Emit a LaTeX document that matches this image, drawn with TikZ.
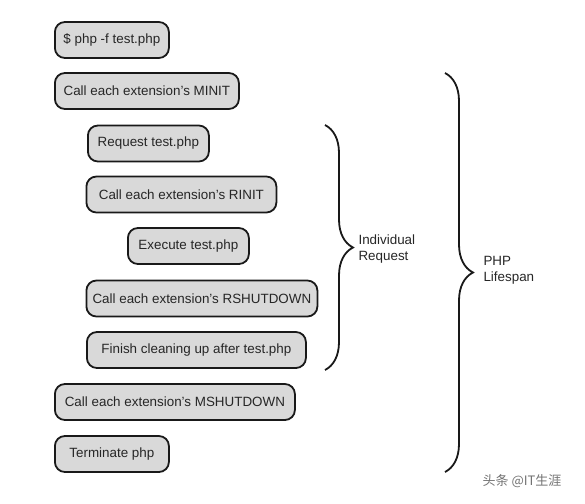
\documentclass[tikz,border=0pt]{standalone}
\usepackage{fontspec}
\setmainfont{Liberation Sans}
\newfontfamily\cjk{Noto Sans CJK SC}
\usetikzlibrary{positioning, decorations.pathreplacing}
\tikzset{stepbox/.style={rectangle, rounded corners=10pt, minimum height=36pt, inner xsep=4pt, line width=1.8pt, draw=black!90, fill=black!15, text=black!85, anchor=west, font=\fontsize{13.4}{16}\selectfont}}
\tikzset{bracelabel/.style={anchor=west, align=left, text=black!85, font=\fontsize{13.4}{16}\selectfont}}
\tikzset{bigbrace/.style={decorate, decoration={brace, amplitude=28pt}, line width=1.8pt, black!90}}

\begin{document}
\begin{tikzpicture}[x=1pt, y=-1pt]
    \useasboundingbox (0,0) rectangle (585,503);

    % Steps
    \node (php) [stepbox, minimum width=114pt] at (54,40) {\$ php -f test.php};
    \node (minit) [stepbox, minimum width=184pt] at (54,91) {Call each extension's MINIT};
    \node (request) [stepbox, minimum width=121pt] at (87,143.5) {Request test.php};
    \node (rinit) [stepbox, minimum width=190pt] at (85.5,194.5) {Call each extension's RINIT};
    \node (execute) [stepbox, minimum width=121pt] at (127,246) {Execute test.php};
    \node (rshutdown) [stepbox, minimum width=231pt] at (85.5,298.5) {Call each extension's RSHUTDOWN};
    \node (finish) [stepbox, minimum width=219pt] at (86,350) {Finish cleaning up after test.php};
    \node (mshutdown) [stepbox, minimum width=240pt] at (54,402) {Call each extension's MSHUTDOWN};
    \node (terminate) [stepbox, minimum width=114pt] at (54,454) {Terminate php};

    % Braces
    \coordinate (reqtop) at (325,125);
    \coordinate (reqbot) at (325,370);
    \coordinate (lifetop) at (445,73);
    \coordinate (lifebot) at (445,472);
    \draw [bigbrace] (reqtop) -- (reqbot);
    \draw [bigbrace] (lifetop) -- (lifebot);

    % Labels
    \node (reqlabel) [bracelabel] at (355,249) {Individual\\Request};
    \node (lifelabel) [bracelabel] at (480,270) {PHP\\Lifespan};
    \node (mark) [text=black!55, font=\cjk\fontsize{13}{15}\selectfont] at (522,481) {头条 @IT生涯};

\end{tikzpicture}
\end{document}
